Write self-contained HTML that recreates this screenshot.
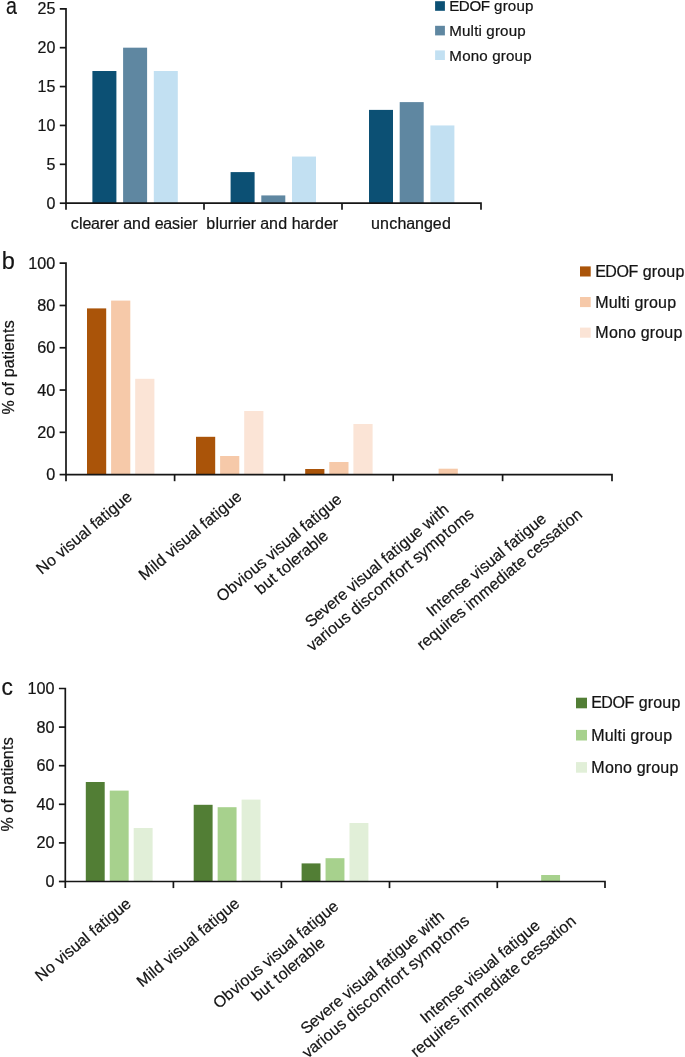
<!DOCTYPE html>
<html><head><meta charset="utf-8"><style>
html,body{margin:0;padding:0;background:#fff;}
body{width:685px;height:1057px;overflow:hidden;}
svg{display:block;will-change:transform;}
text{stroke:#141414;stroke-width:0.22px;font-family:"Liberation Sans",sans-serif;}
</style></head><body>
<svg width="685" height="1057" viewBox="0 0 685 1057">
<rect width="685" height="1057" fill="#fff"/>
<text x="0" y="0" font-size="24.444" fill="#141414" transform="translate(6.12,14.40) scale(0.8021,1)">a</text>
<text x="-0.00 8.89" y="0" font-size="16.000" fill="#141414" transform="translate(37.58,14.20) scale(1.0000,1)">25</text>
<text x="-0.00 8.89" y="0" font-size="16.000" fill="#141414" transform="translate(37.58,53.08) scale(1.0000,1)">20</text>
<text x="-0.00 8.89" y="0" font-size="16.000" fill="#141414" transform="translate(37.58,91.96) scale(1.0000,1)">15</text>
<text x="-0.00 8.89" y="0" font-size="16.000" fill="#141414" transform="translate(37.58,130.84) scale(1.0000,1)">10</text>
<text x="-0.00" y="0" font-size="16.000" fill="#141414" transform="translate(46.46,169.72) scale(1.0000,1)">5</text>
<text x="-0.00" y="0" font-size="16.000" fill="#141414" transform="translate(46.46,208.60) scale(1.0000,1)">0</text>
<rect x="92.40" y="71.01" width="24.00" height="132.19" fill="#0c5074"/>
<rect x="123.10" y="47.68" width="24.00" height="155.52" fill="#5f87a1"/>
<rect x="153.80" y="71.01" width="24.00" height="132.19" fill="#c2e0f2"/>
<rect x="230.60" y="172.10" width="24.00" height="31.10" fill="#0c5074"/>
<rect x="261.30" y="195.42" width="24.00" height="7.78" fill="#5f87a1"/>
<rect x="292.00" y="156.54" width="24.00" height="46.66" fill="#c2e0f2"/>
<rect x="369.00" y="109.89" width="24.00" height="93.31" fill="#0c5074"/>
<rect x="399.70" y="102.11" width="24.00" height="101.09" fill="#5f87a1"/>
<rect x="430.40" y="125.44" width="24.00" height="77.76" fill="#c2e0f2"/>
<text x="0.30 8.59 11.99 20.58 29.33 34.50 43.25 48.58 52.87 61.61 70.81 80.00 84.29 92.89 101.63 109.63 113.03 121.78" y="0" font-size="16.000" fill="#141414" transform="translate(70.48,228.60) scale(1.0000,1)">clearer and easier</text>
<text x="0.29 9.49 13.04 21.94 27.26 32.59 35.99 44.74 50.07 54.36 63.10 72.29 81.49 85.93 94.68 103.42 109.05 118.09 126.83" y="0" font-size="16.000" fill="#141414" transform="translate(205.90,228.60) scale(1.0000,1)">blurrier and harder</text>
<text x="-0.00 8.89 18.09 26.38 35.13 43.87 52.91 61.80 70.84" y="0" font-size="16.000" fill="#141414" transform="translate(371.06,228.60) scale(1.0000,1)">unchanged</text>
<rect x="435.10" y="1.20" width="9.80" height="9.60" fill="#0c5074"/>
<text x="-0.42 9.03 19.59 30.85 39.74 44.04 52.51 57.64 66.12 74.74" y="0" font-size="15.000" fill="#141414" transform="translate(449.64,11.00) scale(1.0100,1)">EDOF group</text>
<rect x="435.10" y="25.80" width="9.80" height="9.60" fill="#5f87a1"/>
<text x="0.28 13.06 21.40 25.01 29.46 32.79 37.09 45.57 50.70 59.17 67.79" y="0" font-size="15.000" fill="#141414" transform="translate(448.88,35.80) scale(1.0100,1)">Multi group</text>
<rect x="435.10" y="50.40" width="9.80" height="9.60" fill="#c2e0f2"/>
<text x="0.28 13.20 21.67 30.15 38.63 42.93 51.40 56.53 65.01 73.63" y="0" font-size="15.000" fill="#141414" transform="translate(448.88,60.60) scale(1.0100,1)">Mono group</text>
<text x="0" y="0" font-size="24.414" fill="#141414" transform="translate(1.67,268.90) scale(0.9648,1)">b</text>
<text x="-0.00 9.01 18.01" y="0" font-size="16.200" fill="#141414" transform="translate(28.28,268.70) scale(1.0000,1)">100</text>
<text x="-0.00 9.01" y="0" font-size="16.200" fill="#141414" transform="translate(37.27,310.98) scale(1.0000,1)">80</text>
<text x="-0.00 9.01" y="0" font-size="16.200" fill="#141414" transform="translate(37.27,353.26) scale(1.0000,1)">60</text>
<text x="-0.00 9.01" y="0" font-size="16.200" fill="#141414" transform="translate(37.27,395.54) scale(1.0000,1)">40</text>
<text x="-0.00 9.01" y="0" font-size="16.200" fill="#141414" transform="translate(37.27,437.82) scale(1.0000,1)">20</text>
<text x="-0.00" y="0" font-size="16.200" fill="#141414" transform="translate(46.26,480.10) scale(1.0000,1)">0</text>
<rect x="87.00" y="308.40" width="19.20" height="166.20" fill="#aa5409"/>
<rect x="111.10" y="300.60" width="19.20" height="174.00" fill="#f6c9a9"/>
<rect x="135.20" y="378.80" width="19.20" height="95.80" fill="#fbe4d6"/>
<rect x="196.00" y="436.80" width="19.20" height="37.80" fill="#aa5409"/>
<rect x="220.10" y="456.00" width="19.20" height="18.60" fill="#f6c9a9"/>
<rect x="244.20" y="411.00" width="19.20" height="63.60" fill="#fbe4d6"/>
<rect x="305.20" y="469.00" width="19.20" height="5.60" fill="#aa5409"/>
<rect x="329.30" y="462.00" width="19.20" height="12.60" fill="#f6c9a9"/>
<rect x="353.40" y="424.00" width="19.20" height="50.60" fill="#fbe4d6"/>
<rect x="438.60" y="468.70" width="19.20" height="5.90" fill="#f6c9a9"/>
<rect x="580.00" y="266.40" width="10.70" height="10.10" fill="#aa5409"/>
<text x="-0.45 9.63 20.90 32.91 42.39 46.97 56.02 61.49 70.53 79.72" y="0" font-size="16.000" fill="#141414" transform="translate(595.70,277.20) scale(1.0000,1)">EDOF group</text>
<rect x="580.00" y="297.00" width="10.70" height="10.10" fill="#f6c9a9"/>
<text x="0.30 13.93 22.83 26.68 31.42 34.98 39.57 48.61 54.08 63.12 72.31" y="0" font-size="16.000" fill="#141414" transform="translate(594.90,307.80) scale(1.0000,1)">Multi group</text>
<rect x="580.00" y="327.60" width="10.70" height="10.10" fill="#fbe4d6"/>
<text x="0.30 14.08 23.12 32.16 41.20 45.79 54.83 60.30 69.34 78.53" y="0" font-size="16.000" fill="#141414" transform="translate(594.90,338.40) scale(1.0000,1)">Mono group</text>
<text x="-0.00 14.23 18.81 28.00 32.59 37.33 46.37 55.42 60.16 63.56 72.30 81.50 86.24" y="0" font-size="16.000" fill="#141414" transform="translate(13.80,414.00) rotate(-90.00) translate(-0.56,0) scale(1.0000,1)">% of patients</text>
<text x="0" y="0" font-size="24.074" fill="#141414" transform="translate(1.47,695.20) scale(0.9467,1)">c</text>
<text x="-0.00 9.01 18.01" y="0" font-size="16.200" fill="#141414" transform="translate(27.57,694.00) scale(1.0000,1)">100</text>
<text x="-0.00 9.01" y="0" font-size="16.200" fill="#141414" transform="translate(36.57,732.60) scale(1.0000,1)">80</text>
<text x="-0.00 9.01" y="0" font-size="16.200" fill="#141414" transform="translate(36.57,771.20) scale(1.0000,1)">60</text>
<text x="-0.00 9.01" y="0" font-size="16.200" fill="#141414" transform="translate(36.57,809.80) scale(1.0000,1)">40</text>
<text x="-0.00 9.01" y="0" font-size="16.200" fill="#141414" transform="translate(36.57,848.40) scale(1.0000,1)">20</text>
<text x="-0.00" y="0" font-size="16.200" fill="#141414" transform="translate(45.56,887.00) scale(1.0000,1)">0</text>
<rect x="85.80" y="782.00" width="18.90" height="99.50" fill="#527e35"/>
<rect x="109.75" y="790.60" width="18.90" height="90.90" fill="#a7d18d"/>
<rect x="133.70" y="828.00" width="18.90" height="53.50" fill="#e1efd8"/>
<rect x="193.70" y="804.80" width="18.90" height="76.70" fill="#527e35"/>
<rect x="217.65" y="807.20" width="18.90" height="74.30" fill="#a7d18d"/>
<rect x="241.60" y="799.60" width="18.90" height="81.90" fill="#e1efd8"/>
<rect x="301.60" y="863.40" width="18.90" height="18.10" fill="#527e35"/>
<rect x="325.55" y="858.20" width="18.90" height="23.30" fill="#a7d18d"/>
<rect x="349.50" y="823.00" width="18.90" height="58.50" fill="#e1efd8"/>
<rect x="541.15" y="875.00" width="18.90" height="6.50" fill="#a7d18d"/>
<rect x="576.00" y="697.70" width="11.00" height="10.60" fill="#527e35"/>
<text x="-0.45 9.63 20.90 32.91 42.39 46.97 56.02 61.49 70.53 79.72" y="0" font-size="16.000" fill="#141414" transform="translate(591.70,708.40) scale(1.0000,1)">EDOF group</text>
<rect x="576.00" y="729.90" width="11.00" height="10.60" fill="#a7d18d"/>
<text x="0.30 13.93 22.83 26.68 31.42 34.98 39.57 48.61 54.08 63.12 72.31" y="0" font-size="16.000" fill="#141414" transform="translate(590.90,740.60) scale(1.0000,1)">Multi group</text>
<rect x="576.00" y="762.10" width="11.00" height="10.60" fill="#e1efd8"/>
<text x="0.30 14.08 23.12 32.16 41.20 45.79 54.83 60.30 69.34 78.53" y="0" font-size="16.000" fill="#141414" transform="translate(590.90,772.80) scale(1.0000,1)">Mono group</text>
<text x="-0.00 14.23 18.81 28.00 32.59 37.33 46.37 55.42 60.16 63.56 72.30 81.50 86.24" y="0" font-size="16.000" fill="#141414" transform="translate(12.90,830.90) rotate(-90.00) translate(-0.56,0) scale(1.0000,1)">% of patients</text>
<text x="-0.00 11.69 20.74 25.18 33.18 36.74 44.73 53.48 62.22 65.78 70.37 74.81 83.85 88.59 92.29 101.33 110.07" y="0" font-size="16.000" fill="#141414" transform="translate(42.80,574.20) rotate(-40.00) translate(-1.28,0) scale(1.0000,1)">No visual fatigue</text>
<text x="0.30 13.93 17.49 21.33 30.53 34.98 42.97 46.53 54.53 63.27 72.01 75.57 80.16 84.60 93.64 98.38 102.08 111.12 119.86" y="0" font-size="16.000" fill="#141414" transform="translate(145.30,580.10) rotate(-40.00) translate(-1.60,0) scale(1.0000,1)">Mild visual fatigue</text>
<text x="-0.14 12.45 21.65 29.65 33.34 42.38 51.28 59.28 63.73 71.73 75.28 83.28 92.02 100.77 104.32 108.91 113.35 122.39 127.13 130.83 139.87 148.61" y="0" font-size="16.000" fill="#141414" transform="translate(222.60,602.00) rotate(-40.00) translate(-0.56,0) scale(1.0000,1)">Obvious visual fatigue</text>
<text x="0.29 9.49 18.68 23.43 28.17 33.05 42.09 45.49 54.24 59.41 68.45 77.65 81.05" y="0" font-size="16.000" fill="#141414" transform="translate(261.50,594.50) rotate(-40.00) translate(-1.36,0) scale(1.0000,1)">but tolerable</text>
<text x="-0.15 10.21 18.96 26.81 35.55 40.73 49.47 53.92 61.92 65.47 73.47 82.21 90.96 94.51 99.11 103.54 112.59 117.33 121.02 130.06 138.81 147.55 152.29 164.13 167.98 172.72" y="0" font-size="16.000" fill="#141414" transform="translate(311.20,627.50) rotate(-40.00) translate(-0.56,0) scale(1.0000,1)">Severe visual fatigue with</text>
<text x="0.00 7.85 16.59 21.92 25.61 34.65 43.55 51.55 56.29 65.49 69.04 77.34 85.77 94.98 108.61 113.34 122.38 128.01 132.75 137.20 145.20 153.36 167.14 176.63 181.52 190.72 204.21" y="0" font-size="16.000" fill="#141414" transform="translate(312.40,651.90) rotate(-40.00) translate(-0.08,0) scale(1.0000,1)">various discomfort symptoms</text>
<text x="-0.15 4.14 13.34 17.93 26.67 35.57 43.41 52.16 56.61 64.61 68.16 76.16 84.90 93.65 97.20 101.79 106.23 115.27 120.01 123.71 132.75 141.49" y="0" font-size="16.000" fill="#141414" transform="translate(433.00,616.30) rotate(-40.00) translate(-1.28,0) scale(1.0000,1)">Intense visual fatigue</text>
<text x="-0.00 5.17 14.21 23.41 32.30 35.86 41.03 49.78 57.78 62.22 65.94 79.58 92.92 101.96 111.15 114.55 123.59 128.18 136.93 141.67 149.81 158.56 166.56 174.41 183.45 188.19 191.89 200.93" y="0" font-size="16.000" fill="#141414" transform="translate(423.30,650.20) rotate(-40.00) translate(-1.04,0) scale(1.0000,1)">requires immediate cessation</text>
<text x="-0.00 11.69 20.74 25.18 33.18 36.74 44.73 53.48 62.22 65.78 70.37 74.81 83.85 88.59 92.29 101.33 110.07" y="0" font-size="16.000" fill="#141414" transform="translate(41.85,981.10) rotate(-40.00) translate(-1.28,0) scale(1.0000,1)">No visual fatigue</text>
<text x="0.30 13.93 17.49 21.33 30.53 34.98 42.97 46.53 54.53 63.27 72.01 75.57 80.16 84.60 93.64 98.38 102.08 111.12 119.86" y="0" font-size="16.000" fill="#141414" transform="translate(143.20,987.00) rotate(-40.00) translate(-1.60,0) scale(1.0000,1)">Mild visual fatigue</text>
<text x="-0.14 12.45 21.65 29.65 33.34 42.38 51.28 59.28 63.73 71.73 75.28 83.28 92.02 100.77 104.32 108.91 113.35 122.39 127.13 130.83 139.87 148.61" y="0" font-size="16.000" fill="#141414" transform="translate(219.25,1008.90) rotate(-40.00) translate(-0.56,0) scale(1.0000,1)">Obvious visual fatigue</text>
<text x="0.29 9.49 18.68 23.43 28.17 33.05 42.09 45.49 54.24 59.41 68.45 77.65 81.05" y="0" font-size="16.000" fill="#141414" transform="translate(258.15,1001.40) rotate(-40.00) translate(-1.36,0) scale(1.0000,1)">but tolerable</text>
<text x="-0.15 10.21 18.96 26.81 35.55 40.73 49.47 53.92 61.92 65.47 73.47 82.21 90.96 94.51 99.11 103.54 112.59 117.33 121.02 130.06 138.81 147.55 152.29 164.13 167.98 172.72" y="0" font-size="16.000" fill="#141414" transform="translate(306.70,1034.40) rotate(-40.00) translate(-0.56,0) scale(1.0000,1)">Severe visual fatigue with</text>
<text x="0.00 7.85 16.59 21.92 25.61 34.65 43.55 51.55 56.29 65.49 69.04 77.34 85.77 94.98 108.61 113.34 122.38 128.01 132.75 137.20 145.20 153.36 167.14 176.63 181.52 190.72 204.21" y="0" font-size="16.000" fill="#141414" transform="translate(307.90,1058.80) rotate(-40.00) translate(-0.08,0) scale(1.0000,1)">various discomfort symptoms</text>
<text x="-0.15 4.14 13.34 17.93 26.67 35.57 43.41 52.16 56.61 64.61 68.16 76.16 84.90 93.65 97.20 101.79 106.23 115.27 120.01 123.71 132.75 141.49" y="0" font-size="16.000" fill="#141414" transform="translate(426.85,1023.20) rotate(-40.00) translate(-1.28,0) scale(1.0000,1)">Intense visual fatigue</text>
<text x="-0.00 5.17 14.21 23.41 32.30 35.86 41.03 49.78 57.78 62.22 65.94 79.58 92.92 101.96 111.15 114.55 123.59 128.18 136.93 141.67 149.81 158.56 166.56 174.41 183.45 188.19 191.89 200.93" y="0" font-size="16.000" fill="#141414" transform="translate(417.15,1057.10) rotate(-40.00) translate(-1.04,0) scale(1.0000,1)">requires immediate cessation</text>
<path d="M59.80,8.80 H66.00 V209.70" fill="none" stroke="#161616" stroke-width="1.7" stroke-linejoin="miter" stroke-linecap="butt"/>
<line x1="59.80" y1="47.68" x2="66.00" y2="47.68" stroke="#161616" stroke-width="1.7"/>
<line x1="59.80" y1="86.56" x2="66.00" y2="86.56" stroke="#161616" stroke-width="1.7"/>
<line x1="59.80" y1="125.44" x2="66.00" y2="125.44" stroke="#161616" stroke-width="1.7"/>
<line x1="59.80" y1="164.32" x2="66.00" y2="164.32" stroke="#161616" stroke-width="1.7"/>
<line x1="59.80" y1="203.20" x2="66.00" y2="203.20" stroke="#161616" stroke-width="1.7"/>
<path d="M66.00,203.20 H481.00 V209.70" fill="none" stroke="#161616" stroke-width="1.7" stroke-linejoin="miter" stroke-linecap="butt"/>
<line x1="204.00" y1="203.20" x2="204.00" y2="209.70" stroke="#161616" stroke-width="1.7"/>
<line x1="342.00" y1="203.20" x2="342.00" y2="209.70" stroke="#161616" stroke-width="1.7"/>
<path d="M59.60,263.20 H66.00 V481.20" fill="none" stroke="#161616" stroke-width="1.7" stroke-linejoin="miter" stroke-linecap="butt"/>
<line x1="59.60" y1="305.48" x2="66.00" y2="305.48" stroke="#161616" stroke-width="1.7"/>
<line x1="59.60" y1="347.76" x2="66.00" y2="347.76" stroke="#161616" stroke-width="1.7"/>
<line x1="59.60" y1="390.04" x2="66.00" y2="390.04" stroke="#161616" stroke-width="1.7"/>
<line x1="59.60" y1="432.32" x2="66.00" y2="432.32" stroke="#161616" stroke-width="1.7"/>
<line x1="59.60" y1="474.60" x2="66.00" y2="474.60" stroke="#161616" stroke-width="1.7"/>
<path d="M66.00,474.60 H612.00 V481.20" fill="none" stroke="#161616" stroke-width="1.7" stroke-linejoin="miter" stroke-linecap="butt"/>
<line x1="174.60" y1="474.60" x2="174.60" y2="481.20" stroke="#161616" stroke-width="1.7"/>
<line x1="284.40" y1="474.60" x2="284.40" y2="481.20" stroke="#161616" stroke-width="1.7"/>
<line x1="393.20" y1="474.60" x2="393.20" y2="481.20" stroke="#161616" stroke-width="1.7"/>
<line x1="502.60" y1="474.60" x2="502.60" y2="481.20" stroke="#161616" stroke-width="1.7"/>
<path d="M58.90,688.50 H65.30 V888.10" fill="none" stroke="#161616" stroke-width="1.7" stroke-linejoin="miter" stroke-linecap="butt"/>
<line x1="58.90" y1="727.10" x2="65.30" y2="727.10" stroke="#161616" stroke-width="1.7"/>
<line x1="58.90" y1="765.70" x2="65.30" y2="765.70" stroke="#161616" stroke-width="1.7"/>
<line x1="58.90" y1="804.30" x2="65.30" y2="804.30" stroke="#161616" stroke-width="1.7"/>
<line x1="58.90" y1="842.90" x2="65.30" y2="842.90" stroke="#161616" stroke-width="1.7"/>
<line x1="58.90" y1="881.50" x2="65.30" y2="881.50" stroke="#161616" stroke-width="1.7"/>
<path d="M65.30,881.50 H605.00 V888.10" fill="none" stroke="#161616" stroke-width="1.7" stroke-linejoin="miter" stroke-linecap="butt"/>
<line x1="173.40" y1="881.50" x2="173.40" y2="888.10" stroke="#161616" stroke-width="1.7"/>
<line x1="281.40" y1="881.50" x2="281.40" y2="888.10" stroke="#161616" stroke-width="1.7"/>
<line x1="389.50" y1="881.50" x2="389.50" y2="888.10" stroke="#161616" stroke-width="1.7"/>
<line x1="497.30" y1="881.50" x2="497.30" y2="888.10" stroke="#161616" stroke-width="1.7"/>
</svg></body></html>
